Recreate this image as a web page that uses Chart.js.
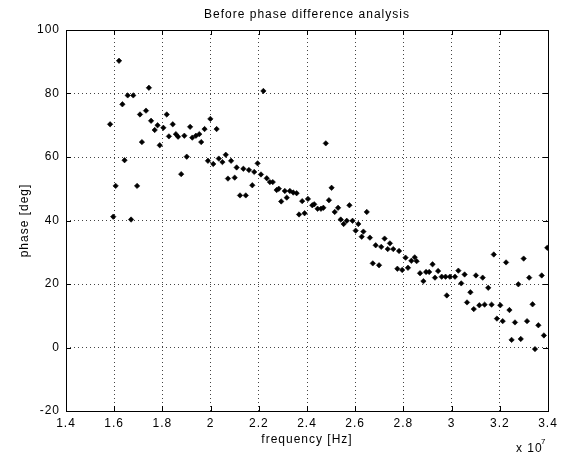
<!DOCTYPE html>
<html>
<head>
<meta charset="utf-8">
<script src="https://cdn.jsdelivr.net/npm/chart.js@4.4.0/dist/chart.umd.min.js"></script>
<style>
  html, body { margin: 0; padding: 0; background: #fff; }
  #wrap { width: 565px; height: 457px; }
</style>
</head>
<body>
<div id="wrap"><canvas id="c" width="565" height="457"></canvas></div>
<script>
// frequency in units of 1e7 Hz
const freq = [1.583,1.596,1.606,1.620,1.634,1.643,1.656,1.670,1.679,1.695,1.707,1.715,1.732,1.744,1.753,1.768,1.780,1.789,1.804,1.818,
  1.827,1.843,1.856,1.865,1.878,1.891,1.901,1.915,1.924,1.939,1.953,1.961,1.975,1.989,1.999,2.011,2.025,2.034,2.049,2.063,
  2.072,2.085,2.100,2.108,2.122,2.136,2.146,2.159,2.173,2.181,2.195,2.209,2.219,2.233,2.246,2.258,2.274,2.283,2.293,2.308,
  2.316,2.329,2.343,2.357,2.367,2.380,2.390,2.404,2.422,2.430,2.444,2.458,2.468,2.478,2.491,2.502,2.515,2.529,2.540,2.552,
  2.565,2.576,2.589,2.602,2.613,2.627,2.634,2.648,2.661,2.673,2.685,2.699,2.708,2.722,2.735,2.744,2.758,2.775,2.782,2.795,
  2.809,2.819,2.833,2.847,2.855,2.869,2.883,2.894,2.907,2.921,2.931,2.944,2.959,2.975,2.980,2.993,3.014,3.028,3.040,3.054,
  3.064,3.078,3.092,3.101,3.115,3.129,3.137,3.152,3.166,3.175,3.188,3.202,3.212,3.226,3.240,3.249,3.263,3.277,3.287,3.299,
  3.313,3.322,3.336,3.346,3.360,3.374,3.383,3.397];
const phase = [70.3,41.2,50.9,90.3,76.6,59.0,79.4,40.3,79.4,50.9,73.4,64.7,74.6,81.8,71.4,68.5,70.0,63.7,69.2,73.4,
  66.5,70.3,67.2,66.4,54.6,66.7,60.1,69.5,66.1,66.7,67.2,64.7,68.8,58.8,72.0,57.8,68.8,59.5,58.4,60.7,
  53.2,58.8,53.5,56.7,47.9,56.3,47.9,55.9,51.1,55.3,58.0,54.5,80.8,53.3,52.1,52.1,49.6,50.0,46.0,49.3,
  47.2,49.3,48.8,48.6,41.9,46.1,42.3,46.8,44.8,45.1,43.7,43.7,44.0,64.3,46.4,50.3,42.7,44.0,40.3,38.9,
  39.9,44.8,39.9,36.8,38.9,34.9,36.5,42.7,34.6,26.5,32.2,25.9,31.7,34.3,31.0,32.8,31.0,24.8,30.4,24.4,
  28.3,25.1,27.3,28.4,27.2,23.4,20.9,23.8,23.8,26.2,22.0,24.1,22.3,22.3,16.4,22.3,22.3,24.2,20.2,23.0,
  14.2,17.4,12.1,22.7,13.3,22.0,13.5,18.8,13.5,29.3,9.1,13.3,8.3,26.8,11.8,2.4,7.9,19.9,2.7,28.0,
  8.3,22.0,13.6,-0.5,7.0,22.7,3.8,31.4];
const xTickLabels = ['1.4','1.6','1.8','2','2.2','2.4','2.6','2.8','3','3.2','3.4'];
const yTickLabels = ['-20','0','20','40','60','80','100'];

const points = freq.map((f, i) => ({ x: f, y: phase[i] }));
const FONT = 'Liberation Sans, Arial, Helvetica, sans-serif';
const FS = 12;
const SPACING = '1px';

const spacingPlugin = {
  id: 'spacing',
  beforeLayout(chart) { chart.ctx.letterSpacing = SPACING; },
  beforeDraw(chart) { chart.ctx.letterSpacing = SPACING; }
};

const matlabFrame = {
  id: 'matlabFrame',
  afterDraw(chart) {
    const { ctx, chartArea: a, scales } = chart;
    const xs = scales.x, ys = scales.y;
    ctx.save();
    ctx.strokeStyle = '#000';
    ctx.lineWidth = 1;
    ctx.beginPath();
    const L = 5;
    xs.ticks.forEach(t => {
      const px = Math.round(xs.getPixelForValue(t.value)) + 0.5;
      ctx.moveTo(px, a.bottom); ctx.lineTo(px, a.bottom - L);
      ctx.moveTo(px, a.top); ctx.lineTo(px, a.top + L);
    });
    ys.ticks.forEach(t => {
      const py = Math.round(ys.getPixelForValue(t.value)) + 0.5;
      ctx.moveTo(a.left, py); ctx.lineTo(a.left + L, py);
      ctx.moveTo(a.right, py); ctx.lineTo(a.right - L, py);
    });
    ctx.stroke();
    ctx.strokeRect(Math.round(a.left) + 0.5, Math.round(a.top) + 0.5,
                   Math.round(a.right - a.left), Math.round(a.bottom - a.top));
    // exponent label
    ctx.fillStyle = '#000';
    ctx.letterSpacing = SPACING;
    ctx.font = FS + 'px ' + FONT;
    ctx.textAlign = 'left';
    ctx.textBaseline = 'alphabetic';
    ctx.fillText('x 10', 516, 452);
    ctx.font = '8px ' + FONT;
    ctx.fillText('7', 541, 444);
    ctx.restore();
  }
};

new Chart(document.getElementById('c'), {
  type: 'scatter',
  data: {
    datasets: [{
      data: points,
      pointStyle: 'rectRot',
      pointRadius: 2.7,
      pointHoverRadius: 2.7,
      backgroundColor: '#000',
      borderColor: '#000',
      borderWidth: 0.6
    }]
  },
  options: {
    responsive: false,
    animation: false,
    events: [],
    layout: { padding: { left: 0, right: 17, top: 0, bottom: 0 } },
    plugins: {
      legend: { display: false },
      tooltip: { enabled: false },
      title: {
        display: true,
        fullSize: false,
        text: 'Before phase difference analysis',
        color: '#000',
        font: { family: FONT, size: FS, weight: 'normal', lineHeight: 1.2 },
        padding: { top: 7, bottom: 8.6 }
      }
    },
    scales: {
      x: {
        type: 'linear',
        min: 1.4, max: 3.4,
        afterFit(s) { s.height = 46; },
        ticks: {
          stepSize: 0.2,
          color: '#000',
          font: { family: FONT, size: FS },
          padding: 5,
          maxRotation: 0,
          autoSkip: false,
          callback: (v, i) => xTickLabels[i]
        },
        grid: { drawTicks: false, color: '#444', lineWidth: 1 },
        border: { display: false, dash: [1, 3] },
        title: {
          display: true,
          text: 'frequency [Hz]',
          color: '#000',
          font: { family: FONT, size: FS },
          padding: { top: 0, bottom: 10 }
        }
      },
      y: {
        type: 'linear',
        min: -20, max: 100,
        afterFit(s) { s.width = 66; },
        ticks: {
          stepSize: 20,
          color: '#000',
          font: { family: FONT, size: FS },
          padding: 6,
          callback: (v, i) => yTickLabels[i]
        },
        grid: { drawTicks: false, color: '#444', lineWidth: 1 },
        border: { display: false, dash: [1, 3] },
        title: {
          display: true,
          text: 'phase [deg]',
          color: '#000',
          font: { family: FONT, size: FS },
          padding: { top: 17, bottom: 0 }
        }
      }
    }
  },
  plugins: [spacingPlugin, matlabFrame]
});
</script>
</body>
</html>
